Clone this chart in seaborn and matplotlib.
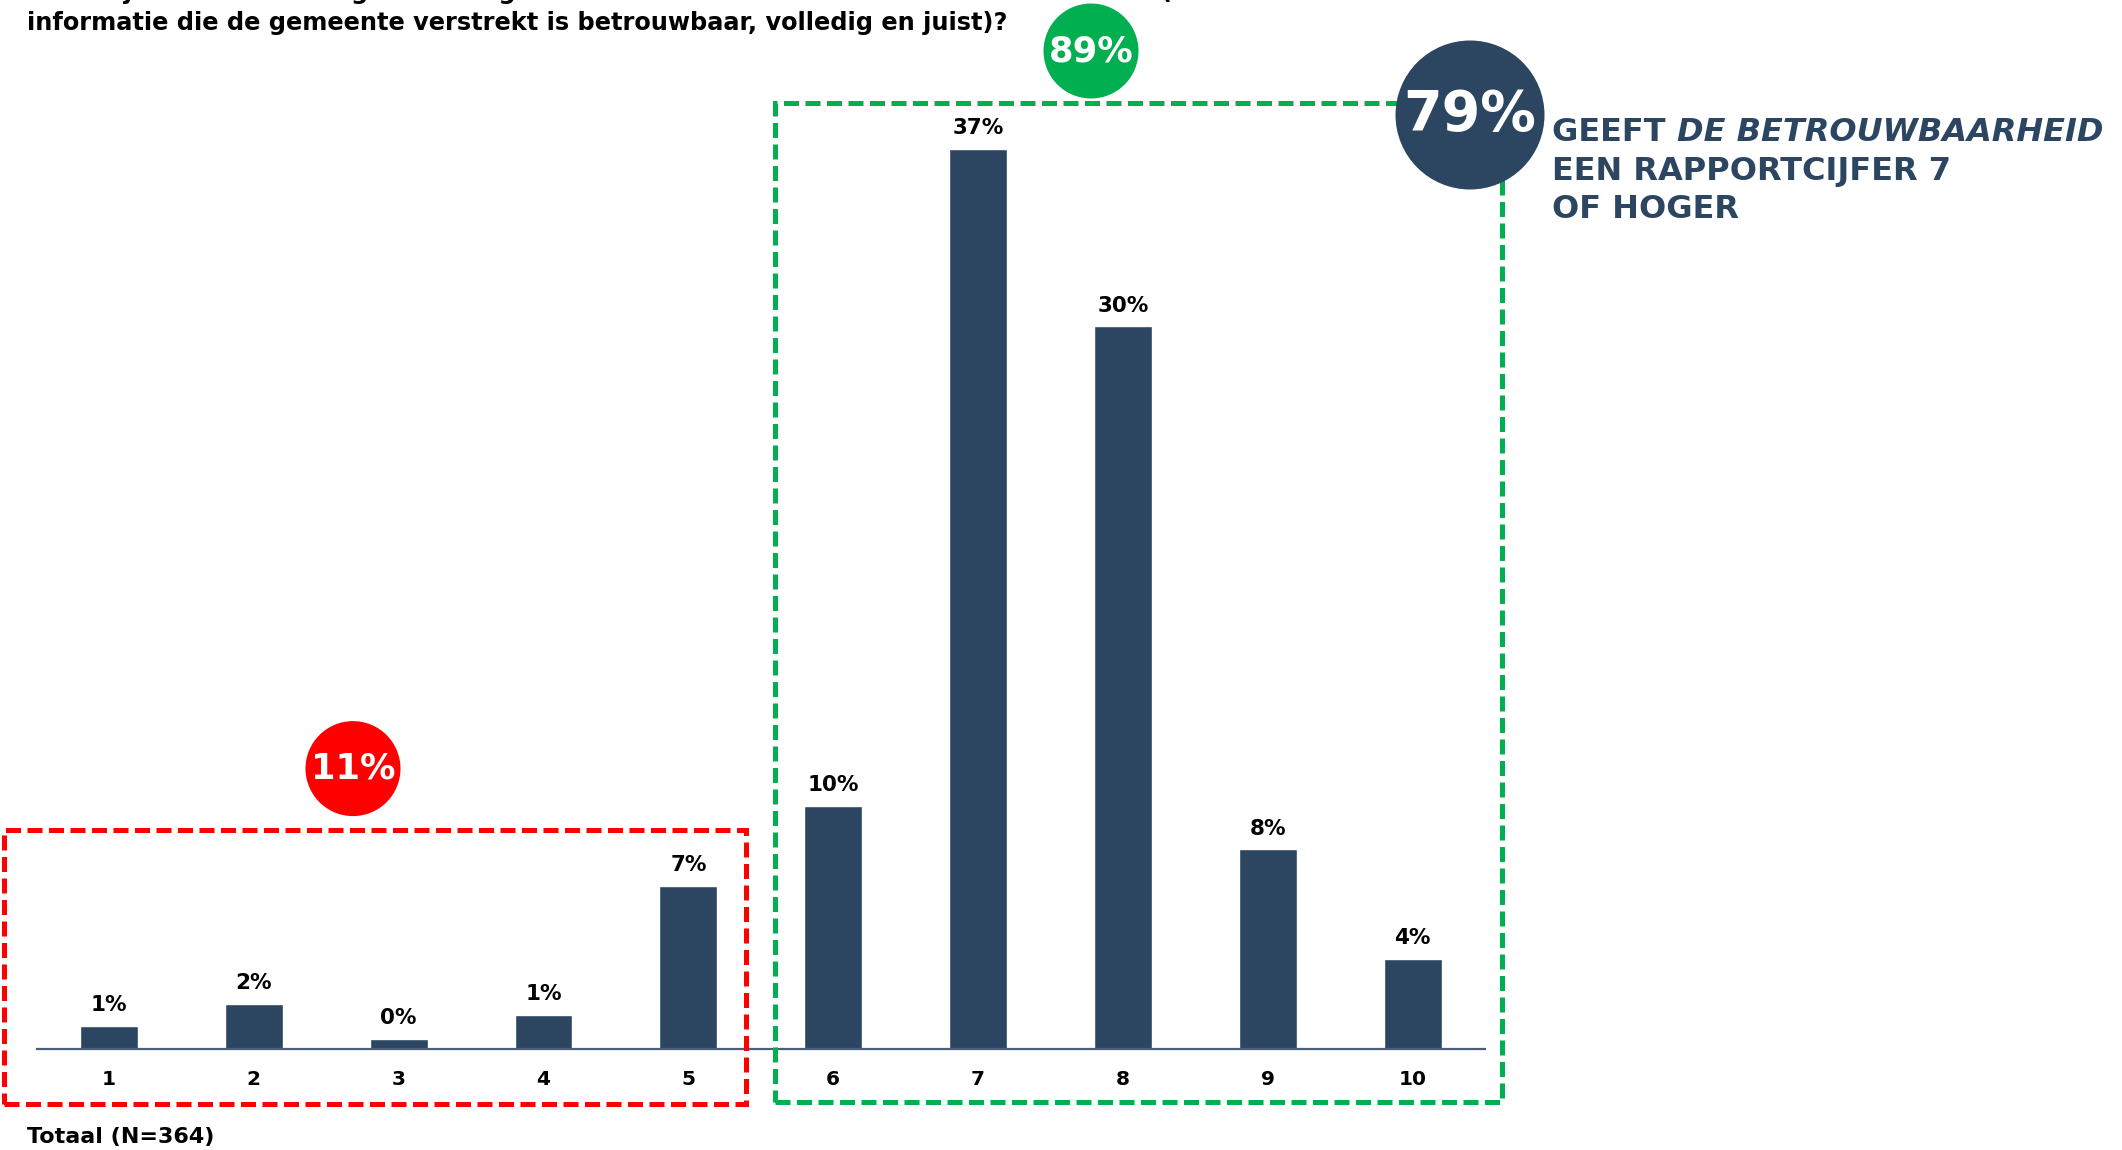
import matplotlib
matplotlib.use("Agg")
import matplotlib.pyplot as plt
import seaborn as sns
import pandas as pd
from matplotlib.patches import Rectangle, Ellipse

# Rapportcijfers 1-10 en aandeel respondenten (%)
cijfers = ["1", "2", "3", "4", "5", "6", "7", "8", "9", "10"]
aandeel = [0.95, 1.83, 0.39, 1.39, 6.7, 10.0, 37.0, 29.7, 8.2, 3.7]

onvoldoende_pct = "11%"
voldoende_pct = "89%"
zeven_plus_pct = "79%"

titel_regels = [
    "Welk cijfer van 1 tot 10 geeft u de gemeente Veenendaal voor de betrouwbaarheid (de",
    "informatie die de gemeente verstrekt is betrouwbaar, volledig en juist)?",
]
basis = "Totaal (N=364)"

NAVY = "#2C4662"
GREEN = "#00B050"
RED = "#FF0000"

W, H = 2122, 1150
sns.set_theme(style="white")
plt.rcParams["font.family"] = ["DejaVu Sans"]

fig = plt.figure(figsize=(W / 100, H / 100), dpi=100)
fig.patch.set_facecolor("white")


def fx(px):
    return px / W


def fy(py):
    return 1 - py / H


ax = fig.add_axes([fx(36.5), fy(1048.8), fx(1485 - 36.5), (973) / H])
df = pd.DataFrame({"cijfer": cijfers, "aandeel": aandeel})
sns.barplot(data=df, x="cijfer", y="aandeel", color=NAVY, width=0.4,
            saturation=1, ax=ax, zorder=3)
ax.set_xlim(-0.5, 9.5)
ax.set_ylim(0, 40)
ax.set_xlabel("")
ax.set_ylabel("")
ax.set_yticks([])
for s in ["top", "left", "right"]:
    ax.spines[s].set_visible(False)
ax.spines["bottom"].set_color("#4A5F7A")
ax.spines["bottom"].set_linewidth(1.6)
ax.spines["bottom"].set_zorder(4)
ax.tick_params(axis="x", length=0, pad=15)
for lbl in ax.get_xticklabels():
    lbl.set_fontweight("bold")
    lbl.set_fontsize(14.5)
    lbl.set_color("black")
ax.set_facecolor("none")

for i, v in enumerate(aandeel):
    ax.annotate(f"{round(v):.0f}%", xy=(i, v), xytext=(0, 15),
                textcoords="offset points", ha="center", va="center",
                fontsize=15.5, fontweight="bold", color="black")

# Titel
fig.text(fx(27), fy(-8), titel_regels[0], ha="left", va="center",
         fontsize=17.3, fontweight="bold", color="black")
fig.text(fx(27), fy(23), titel_regels[1], ha="left", va="center",
         fontsize=17.3, fontweight="bold", color="black")

fig.text(fx(27), fy(1137), basis, ha="left", va="center",
         fontsize=16, fontweight="bold", color="black")


def kader(x0, y0, x1, y1, kleur):
    rect = Rectangle((fx(x0), fy(y1)), fx(x1 - x0), (y1 - y0) / H,
                     transform=fig.transFigure, fill=False, edgecolor=kleur,
                     linewidth=3.6, linestyle=(0, (3, 1.3)), zorder=5)
    fig.add_artist(rect)


kader(4, 829.6, 745.6, 1104, RED)
kader(775.5, 103, 1502, 1101.6, GREEN)


def bol(cx, cy, r, kleur, tekst, size):
    e = Ellipse((fx(cx), fy(cy)), 2 * r / W, 2 * r / H,
                transform=fig.transFigure, facecolor=kleur, edgecolor="none",
                zorder=6)
    fig.add_artist(e)
    fig.text(fx(cx), fy(cy), tekst, ha="center", va="center",
             fontsize=size, fontweight="bold", color="white", zorder=7)


bol(353, 768.6, 47.5, RED, onvoldoende_pct, 25.5)
bol(1091, 51, 47.5, GREEN, voldoende_pct, 25.5)
bol(1470, 115, 74.5, NAVY, zeven_plus_pct, 40)

# Toelichting bij de 79%
tx = fx(1552)
t1 = fig.text(tx, fy(132.6), "GEEFT ", ha="left", va="center",
              fontsize=23, fontweight="bold", color=NAVY)
fig.canvas.draw()
bb = t1.get_window_extent()
fig.text(bb.x1 / W, fy(132.6), "DE BETROUWBAARHEID", ha="left", va="center",
         fontsize=23, fontweight="bold", fontstyle="italic", color=NAVY)
fig.text(tx, fy(171.9), "EEN RAPPORTCIJFER 7", ha="left", va="center",
         fontsize=23, fontweight="bold", color=NAVY)
fig.text(tx, fy(209.8), "OF HOGER", ha="left", va="center",
         fontsize=23, fontweight="bold", color=NAVY)

fig.savefig("out.png", dpi=100, facecolor="white")
